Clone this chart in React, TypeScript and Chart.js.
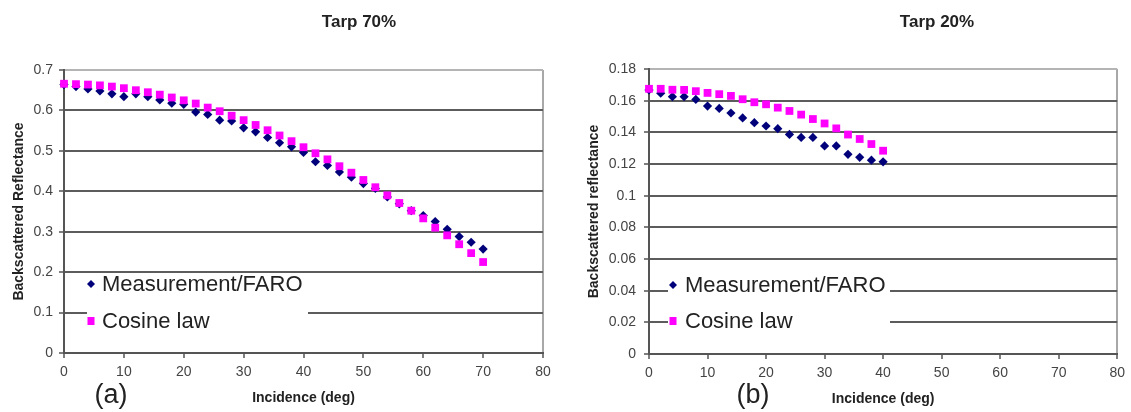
import React, { useEffect, useRef } from "react";
import { Chart, registerables } from "chart.js";

Chart.register(...registerables);

const FONT = "'Liberation Sans', Arial, sans-serif";

// ---- Data: Tarp 70% ----
const incidence70 = [0, 2, 4, 6, 8, 10, 12, 14, 16, 18, 20, 22, 24, 26, 28, 30, 32, 34, 36, 38, 40, 42, 44, 46, 48, 50, 52, 54, 56, 58, 60, 62, 64, 66, 68, 70];
const measured70 = [0.664, 0.659, 0.653, 0.648, 0.641, 0.634, 0.641, 0.634, 0.626, 0.618, 0.615, 0.596, 0.590, 0.576, 0.574, 0.557, 0.547, 0.533, 0.520, 0.510, 0.496, 0.473, 0.464, 0.448, 0.435, 0.419, 0.407, 0.386, 0.369, 0.352, 0.340, 0.325, 0.306, 0.288, 0.274, 0.257];
const cosine70 = [0.666, 0.665, 0.664, 0.662, 0.659, 0.655, 0.650, 0.645, 0.639, 0.632, 0.625, 0.617, 0.607, 0.598, 0.587, 0.576, 0.564, 0.551, 0.538, 0.524, 0.509, 0.494, 0.479, 0.462, 0.446, 0.428, 0.410, 0.390, 0.371, 0.352, 0.333, 0.310, 0.291, 0.269, 0.247, 0.225];

// ---- Data: Tarp 20% ----
const incidence20 = [0, 2, 4, 6, 8, 10, 12, 14, 16, 18, 20, 22, 24, 26, 28, 30, 32, 34, 36, 38, 40];
const measured20 = [0.1668, 0.1647, 0.1625, 0.1625, 0.1608, 0.1566, 0.1551, 0.1522, 0.1491, 0.1461, 0.1440, 0.1423, 0.1387, 0.1368, 0.1368, 0.1314, 0.1314, 0.1261, 0.1242, 0.1224, 0.1214];
const cosine20 = [0.1675, 0.1675, 0.1669, 0.1668, 0.1660, 0.1649, 0.1641, 0.1630, 0.1609, 0.1590, 0.1577, 0.1556, 0.1535, 0.1512, 0.1484, 0.1456, 0.1425, 0.1386, 0.1358, 0.1326, 0.1284];

const seriesNames = ["Measurement/FARO", "Cosine law"];
const chartTitles = ["Tarp 70%", "Tarp 20%"];
const yTitles = ["Backscattered Reflectance", "Backscattered reflectance"];
const xTitle = "Incidence (deg)";
const panelTags = ["(a)", "(b)"];

const xTicks = [0, 10, 20, 30, 40, 50, 60, 70, 80];
const xTickLabels = ["0", "10", "20", "30", "40", "50", "60", "70", "80"];
const yTicks70 = [0, 0.1, 0.2, 0.3, 0.4, 0.5, 0.6, 0.7];
const yTickLabels70 = ["0", "0.1", "0.2", "0.3", "0.4", "0.5", "0.6", "0.7"];
const yTicks20 = [0, 0.02, 0.04, 0.06, 0.08, 0.1, 0.12, 0.14, 0.16, 0.18];
const yTickLabels20 = ["0", "0.02", "0.04", "0.06", "0.08", "0.1", "0.12", "0.14", "0.16", "0.18"];

const MEAS_COLOR = "#00007a";
const COS_COLOR = "#ff00ff";

const annotPlugin = {
  id: "annot",
  afterDatasetsDraw(chart: any, _args: any, opts: any) {
    const ctx = chart.ctx;
    const lg = opts.legend;
    ctx.save();
    ctx.fillStyle = "#ffffff";
    ctx.fillRect(lg.x, lg.y, lg.w, lg.h);
    chart.data.datasets.forEach((ds: any, i: number) => {
      const ry = lg.rows[i];
      ctx.fillStyle = ds.backgroundColor;
      if (ds.pointStyle === "rectRot") {
        const r = 4;
        ctx.beginPath();
        ctx.moveTo(lg.markerX, ry - r);
        ctx.lineTo(lg.markerX + r, ry);
        ctx.lineTo(lg.markerX, ry + r);
        ctx.lineTo(lg.markerX - r, ry);
        ctx.closePath();
        ctx.fill();
      } else {
        ctx.fillRect(lg.markerX - 3.5, ry - 4, 7, 8);
      }
      ctx.fillStyle = "#222222";
      ctx.font = `22px ${FONT}`;
      ctx.textAlign = "left";
      ctx.textBaseline = "middle";
      ctx.fillText(ds.label, lg.textX, ry + 1);
    });
    ctx.restore();
  },
  afterDraw(chart: any, _args: any, opts: any) {
    const ctx = chart.ctx;
    ctx.save();
    ctx.fillStyle = "#222222";
    ctx.textAlign = "center";
    ctx.textBaseline = "middle";
    ctx.font = `bold 17px ${FONT}`;
    ctx.fillText(opts.title, opts.titleX, 22);
    ctx.font = `27px ${FONT}`;
    ctx.fillText(opts.tag, opts.tagX, 396);
    ctx.restore();
  },
};

type Panel = {
  width: number;
  xs: number[];
  meas: number[];
  cos: number[];
  yMax: number;
  yTicks: number[];
  yLabels: string[];
  title: string;
  yTitle: string;
  tag: string;
  area: { left: number; right: number; top: number; bottom: number };
  yTitlePad: number;
  xTitlePad: number;
  yTickPad: number;
  titleX: number;
  tagX: number;
  legend: { x: number; y: number; w: number; h: number; rows: number[]; markerX: number; textX: number };
};

const panels: Panel[] = [
  {
    width: 580,
    xs: incidence70,
    meas: measured70,
    cos: cosine70,
    yMax: 0.7,
    yTicks: yTicks70,
    yLabels: yTickLabels70,
    title: chartTitles[0],
    yTitle: yTitles[0],
    tag: panelTags[0],
    area: { left: 64, right: 543, top: 70, bottom: 353 },
    yTitlePad: 11,
    xTitlePad: 5,
    yTickPad: 6,
    titleX: 359,
    tagX: 111,
    legend: { x: 87, y: 275, w: 221, h: 60, rows: [284, 321], markerX: 91, textX: 102 },
  },
  {
    width: 551,
    xs: incidence20,
    meas: measured20,
    cos: cosine20,
    yMax: 0.18,
    yTicks: yTicks20,
    yLabels: yTickLabels20,
    title: chartTitles[1],
    yTitle: yTitles[1],
    tag: panelTags[1],
    area: { left: 69, right: 542, top: 69, bottom: 354 },
    yTitlePad: 6,
    xTitlePad: 4,
    yTickPad: 8,
    titleX: 357,
    tagX: 173,
    legend: { x: 88, y: 274, w: 222, h: 62, rows: [285, 321], markerX: 93, textX: 105 },
  },
];

function ScatterPanel({ p, left }: { p: Panel; left: number }) {
  const ref = useRef<HTMLCanvasElement | null>(null);
  useEffect(() => {
    if (!ref.current) return;
    const H = 412;
    const chart = new Chart(ref.current, {
      type: "scatter",
      data: {
        datasets: [
          {
            label: seriesNames[0],
            data: p.xs.map((x, i) => ({ x, y: p.meas[i] })),
            pointStyle: "rectRot",
            pointRadius: 4.6,
            backgroundColor: MEAS_COLOR,
            borderColor: MEAS_COLOR,
            borderWidth: 0,
            clip: false,
            order: 1,
          } as any,
          {
            label: seriesNames[1],
            data: p.xs.map((x, i) => ({ x, y: p.cos[i] })),
            pointStyle: "rect",
            pointRadius: 5.5,
            backgroundColor: COS_COLOR,
            borderColor: COS_COLOR,
            borderWidth: 0,
            clip: false,
            order: 0,
          } as any,
        ],
      },
      options: {
        responsive: false,
        animation: false,
        devicePixelRatio: 1,
        layout: {
          padding: { left: 0, right: p.width - p.area.right, top: p.area.top, bottom: 0 },
        },
        plugins: {
          legend: { display: false },
          tooltip: { enabled: false },
          title: { display: false },
          annot: {
            title: p.title,
            titleX: p.titleX,
            tag: p.tag,
            tagX: p.tagX,
            legend: p.legend,
          },
        } as any,
        scales: {
          x: {
            type: "linear",
            min: 0,
            max: 80,
            afterBuildTicks: (s: any) => {
              s.ticks = xTicks.map((v) => ({ value: v }));
            },
            afterFit: (s: any) => {
              s.height = H - p.area.bottom;
            },
            ticks: {
              callback: (_v: any, i: number) => xTickLabels[i],
              color: "#444444",
              font: { family: FONT, size: 14 },
              padding: 6,
              maxRotation: 0,
              autoSkip: false,
            },
            grid: {
              drawOnChartArea: true,
              color: (c: any) => (c.tick && c.tick.value === 80 ? "#a8a8a8" : "rgba(0,0,0,0)"),
              lineWidth: 2,
              tickColor: "#555555",
              tickLength: 5,
              tickWidth: 1.5,
            },
            border: { display: true, color: "#555555", width: 2 },
            title: {
              display: true,
              text: xTitle,
              color: "#222222",
              font: { family: FONT, size: 14, weight: "bold" },
              padding: { top: 0, bottom: p.xTitlePad },
            },
          },
          y: {
            type: "linear",
            min: 0,
            max: p.yMax,
            afterBuildTicks: (s: any) => {
              s.ticks = p.yTicks.map((v) => ({ value: v }));
            },
            afterFit: (s: any) => {
              s.width = p.area.left;
            },
            ticks: {
              callback: (_v: any, i: number) => p.yLabels[i],
              color: "#444444",
              font: { family: FONT, size: 14 },
              padding: p.yTickPad,
              autoSkip: false,
            },
            grid: {
              color: (c: any) =>
                c.tick && Math.abs(c.tick.value - p.yMax) < 1e-9 ? "#b4b4b4" : "#5c5c5c",
              lineWidth: 2,
              tickColor: "#555555",
              tickLength: 5,
              tickWidth: 1.5,
            },
            border: { display: true, color: "#555555", width: 2 },
            title: {
              display: true,
              text: p.yTitle,
              color: "#222222",
              font: { family: FONT, size: 14, weight: "bold" },
              padding: { top: p.yTitlePad, bottom: 0 },
            },
          },
        },
      } as any,
      plugins: [annotPlugin as any],
    });
    return () => chart.destroy();
  }, [p]);
  return (
    <canvas
      ref={ref}
      width={p.width}
      height={412}
      style={{ position: "absolute", left, top: 0, width: p.width, height: 412, display: "block" }}
    />
  );
}

export default function App() {
  return (
    <div style={{ position: "absolute", left: 0, top: 0, width: 1131, height: 412, background: "#ffffff", overflow: "hidden" }}>
      <ScatterPanel p={panels[0]} left={0} />
      <ScatterPanel p={panels[1]} left={580} />
    </div>
  );
}
